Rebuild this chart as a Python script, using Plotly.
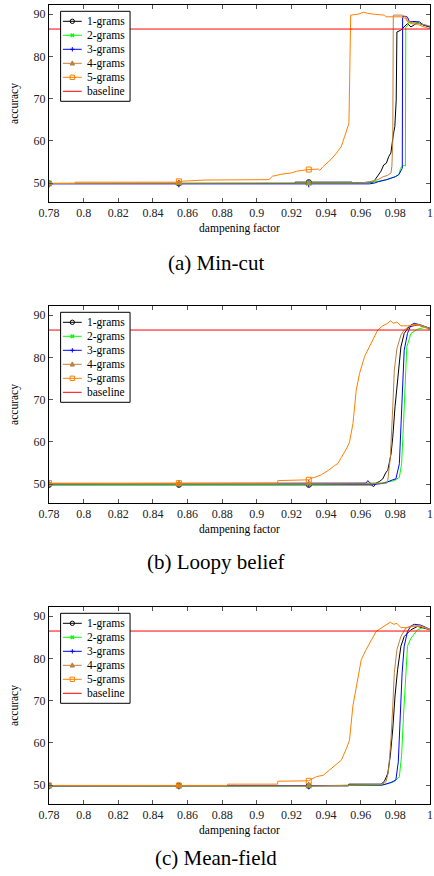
import plotly.graph_objects as go

# ---------------- data ----------------
X_TICKS = [0.78, 0.80, 0.82, 0.84, 0.86, 0.88, 0.90, 0.92, 0.94, 0.96, 0.98, 1.00]
X_TICK_TEXT = ["0.78", "0.8", "0.82", "0.84", "0.86", "0.88", "0.9", "0.92", "0.94", "0.96", "0.98", "1"]
Y_TICKS = [50, 60, 70, 80, 90]
MARK_X = [0.78, 0.855, 0.93]
SERIES_NAMES = ["1-grams", "2-grams", "3-grams", "4-grams", "5-grams"]
BASELINE_NAME = "baseline"
CAPTIONS = ["(a) Min-cut", "(b) Loopy belief", "(c) Mean-field"]
BASELINE_X = [0.78, 1.0]
BASELINE_Y = [86.5, 86.5]

# (a) Min-cut
MC1_X = [0.78, 0.855, 0.922, 0.9221, 0.93, 0.955, 0.9551, 0.9673, 0.9683, 0.9698, 0.9717, 0.9733, 0.9748, 0.9762,
         0.9774, 0.9788, 0.9797, 0.9805, 0.9809, 0.983, 0.985, 0.987, 0.989, 0.9928, 0.9966, 1.0]
MC1_Y = [49.9, 49.9, 49.9, 50.2, 50.2, 50.2, 50.0, 50.2, 50.8, 51.6, 52.8, 54.3, 54.7, 56.3,
         57.1, 61.4, 63.4, 69.7, 85.8, 86.2, 87.0, 87.8, 87.0, 88.0, 87.4, 87.0]
MC2_X = [0.78, 0.855, 0.93, 0.958, 0.965, 0.97, 0.975, 0.978, 0.980, 0.982, 0.983, 0.984, 0.9852, 0.9858,
         0.986, 0.987, 0.9875, 0.99, 0.993, 0.996, 1.0]
MC2_Y = [49.9, 49.9, 49.9, 50.0, 50.2, 50.4, 50.8, 51.2, 51.5, 52.0, 53.5, 54.0, 54.2, 54.0,
         87.0, 87.3, 88.0, 88.2, 88.0, 87.6, 87.0]
MC3_X = [0.78, 0.855, 0.93, 0.956, 0.965, 0.968, 0.97, 0.975, 0.978, 0.98, 0.982, 0.9835, 0.984, 0.9842,
         0.986, 0.987, 0.988, 0.99, 0.992, 0.994, 0.996, 1.0]
MC3_Y = [49.8, 49.8, 49.8, 49.8, 49.8, 50.0, 50.3, 50.8, 51.2, 51.5, 52.0, 53.0, 53.5, 89.5,
         89.5, 89.3, 88.3, 88.3, 88.3, 88.2, 87.5, 87.0]
MC4_X = [0.78, 0.855, 0.93, 0.96, 0.965, 0.97, 0.973, 0.9755, 0.9775, 0.978, 0.9785, 0.9788, 0.981, 0.984,
         0.986, 0.987, 0.99, 0.995, 1.0]
MC4_Y = [49.9, 49.9, 49.9, 50.0, 50.3, 50.8, 51.5, 51.8, 52.4, 54.0, 60.0, 89.8, 89.8, 89.8,
         89.3, 88.5, 88.0, 87.7, 87.2]
MC5_X = [0.78, 0.795, 0.7951, 0.853, 0.855, 0.87, 0.907, 0.909, 0.9144, 0.92, 0.923, 0.93, 0.9355, 0.9364,
         0.9383, 0.9412, 0.9431, 0.946, 0.9488, 0.9507, 0.9523, 0.9532, 0.9542, 0.9583, 0.9618, 0.9641,
         0.9679, 0.9737, 0.9746, 0.9775, 0.9813, 0.9832, 0.986, 0.987, 0.989, 0.9928, 0.9966, 1.0]
MC5_Y = [49.9, 49.9, 50.2, 50.2, 50.4, 50.7, 50.8, 51.6, 52.1, 52.4, 52.8, 53.2, 53.3, 53.0,
         53.9, 54.9, 55.7, 57.1, 58.7, 61.0, 63.4, 64.2, 89.8, 90.0, 90.5, 90.2,
         90.0, 89.8, 89.4, 89.4, 89.5, 89.4, 89.0, 88.2, 87.8, 87.6, 87.0, 86.6]

# (b) Loopy belief
LB1_X = [0.78, 0.855, 0.93, 0.966, 0.9675, 0.9688, 0.9708, 0.9727, 0.9746, 0.9756, 0.9775, 0.9785, 0.9798,
         0.9813, 0.9832, 0.9851, 0.988, 0.9928, 1.0]
LB1_Y = [49.8, 49.8, 49.8, 49.8, 49.4, 50.2, 50.6, 51.2, 52.8, 53.2, 57.1, 61.1, 68.3,
         75.4, 82.5, 85.7, 87.3, 87.7, 86.9]
LB2_X = [0.78, 0.855, 0.93, 0.9718, 0.9794, 0.9823, 0.9836, 0.9847, 0.9857, 0.9866, 0.989, 0.9928, 0.9966, 1.0]
LB2_Y = [50.0, 50.0, 50.0, 50.2, 50.8, 51.6, 54.8, 64.3, 76.2, 82.5, 85.7, 86.7, 87.1, 86.9]
LB3_X = [0.78, 0.855, 0.93, 0.963, 0.9641, 0.966, 0.9679, 0.9737, 0.9785, 0.9803, 0.9823, 0.9832, 0.9842,
         0.9851, 0.987, 0.989, 0.9909, 0.9947, 1.0]
LB3_Y = [50.1, 50.1, 50.1, 50.2, 50.8, 50.0, 49.9, 50.2, 51.0, 51.2, 54.8, 64.3, 76.2,
         81.7, 85.7, 87.7, 88.1, 87.7, 86.9]
LB4_X = [0.78, 0.855, 0.93, 0.975, 0.9756, 0.9771, 0.9785, 0.9794, 0.9809, 0.9832, 0.9851, 0.989, 0.9928, 1.0]
LB4_Y = [50.1, 50.1, 50.1, 50.2, 50.8, 56.3, 68.3, 77.0, 82.1, 85.3, 86.5, 87.7, 87.9, 86.9]
LB5_X = [0.78, 0.855, 0.912, 0.9121, 0.93, 0.9316, 0.9335, 0.9373, 0.9412, 0.945, 0.9469, 0.9488, 0.9517,
         0.9535, 0.9555, 0.9574, 0.9593, 0.9622, 0.9641, 0.9669, 0.9698, 0.9727, 0.9756, 0.9771, 0.979,
         0.9809, 0.9832, 0.987, 0.9928, 0.9966, 1.0]
LB5_Y = [50.2, 50.2, 50.2, 50.8, 51.0, 51.4, 51.6, 52.2, 53.2, 54.4, 54.9, 56.3, 58.3,
         59.9, 64.3, 72.2, 76.2, 80.2, 81.7, 84.1, 86.5, 87.5, 88.1, 88.7, 88.1,
         88.4, 87.5, 87.5, 87.7, 87.3, 86.5]

# (c) Mean-field
MF1_X = [0.78, 0.855, 0.93, 0.953, 0.9531, 0.9718, 0.9737, 0.9756, 0.9771, 0.9785, 0.9798, 0.9813, 0.9832,
         0.9851, 0.989, 0.9928, 1.0]
MF1_Y = [49.8, 49.8, 49.8, 49.8, 50.2, 50.2, 50.9, 52.7, 57.0, 63.3, 71.1, 77.4, 82.9,
         85.2, 86.8, 87.6, 86.8]
MF2_X = [0.78, 0.855, 0.93, 0.9737, 0.9794, 0.9823, 0.9836, 0.9847, 0.9859, 0.987, 0.989, 0.9928, 0.9966, 1.0]
MF2_Y = [49.8, 49.8, 49.8, 50.1, 50.8, 52.0, 57.0, 66.4, 76.6, 82.9, 84.8, 86.8, 87.4, 86.9]
MF3_X = [0.78, 0.855, 0.93, 0.9718, 0.9775, 0.9803, 0.9817, 0.9828, 0.9839, 0.9851, 0.987, 0.989, 0.9909,
         0.9947, 1.0]
MF3_Y = [49.8, 49.8, 49.8, 49.9, 50.6, 51.2, 55.5, 66.4, 76.6, 82.9, 86.4, 87.7, 88.1, 87.9, 86.9]
MF4_X = [0.78, 0.855, 0.93, 0.972, 0.9746, 0.976, 0.9775, 0.9785, 0.9794, 0.9809, 0.9832, 0.986, 0.989,
         0.9947, 1.0]
MF4_Y = [49.8, 49.8, 49.8, 50.0, 50.8, 53.1, 61.0, 68.8, 76.6, 82.1, 85.2, 87.2, 87.7, 87.7, 86.9]
MF5_X = [0.78, 0.855, 0.883, 0.8831, 0.912, 0.9121, 0.93, 0.9316, 0.9345, 0.9383, 0.9412, 0.945, 0.9488,
         0.9517, 0.9535, 0.9555, 0.9574, 0.9603, 0.9631, 0.966, 0.9689, 0.9718, 0.9746, 0.9771, 0.979,
         0.9809, 0.9832, 0.987, 0.9909, 0.9947, 1.0]
MF5_Y = [49.9, 49.9, 49.9, 50.2, 50.2, 50.9, 51.0, 51.4, 52.0, 52.3, 53.3, 54.7, 55.9,
         58.6, 60.6, 68.8, 73.5, 79.7, 82.1, 84.4, 86.4, 87.2, 87.9, 88.6, 88.1,
         88.3, 87.3, 87.3, 87.7, 87.6, 86.8]

PANELS = [
    [(MC1_X, MC1_Y), (MC2_X, MC2_Y), (MC3_X, MC3_Y), (MC4_X, MC4_Y), (MC5_X, MC5_Y)],
    [(LB1_X, LB1_Y), (LB2_X, LB2_Y), (LB3_X, LB3_Y), (LB4_X, LB4_Y), (LB5_X, LB5_Y)],
    [(MF1_X, MF1_Y), (MF2_X, MF2_Y), (MF3_X, MF3_Y), (MF4_X, MF4_Y), (MF5_X, MF5_Y)],
]

# ---------------- style ----------------
COLORS = ["#000000", "#00ff00", "#0000ff", "#bf8040", "#ff8000"]
BASE_COLOR = "#ff0000"
SYMBOLS = ["circle-open", "x-thin-open", "cross-thin-open", "triangle-up", "square-open"]
LEG_SYMBOLS = ["circle", "x", "plus", "triangle", "square"]
FONT = "Liberation Serif"

W, H = 434, 876
M_L, M_R, M_T, M_B = 49, 1, 5, 72
PW = W - M_L - M_R
PH = H - M_T - M_B
PANEL_PX = [(5, 202), (306, 503), (607, 804)]
CAPTION_PX = [263, 562, 858]
# legend box geometry (pixels)
LEG_LEFT, LEG_RIGHT = 60.7, 130.7
LEG_TOP_OFF, LEG_FIRST, LEG_STEP, LEG_H = 6.3, 10.0, 14.0, 90.0
LEG_LINE = (63.0, 82.0)
LEG_MARK_X = 72.5
LEG_TEXT_X = 85.0


def fx(px):
    return (px - M_L) / PW


def fy(py):
    return (H - M_B - py) / PH


fig = go.Figure()
shapes, annotations = [], []

for p, series in enumerate(PANELS):
    sfx = "" if p == 0 else str(p + 1)
    xa, ya = "x" + sfx, "y" + sfx
    for i, (xs, ys) in enumerate(series):
        assert len(xs) == len(ys)
        fig.add_trace(go.Scatter(
            x=xs, y=ys, mode="lines", name=SERIES_NAMES[i], xaxis=xa, yaxis=ya,
            line=dict(color=COLORS[i], width=1), showlegend=False))
        idx = [xs.index(m) for m in MARK_X]
        fig.add_trace(go.Scatter(
            x=[xs[k] for k in idx], y=[ys[k] for k in idx], mode="markers",
            name=SERIES_NAMES[i], xaxis=xa, yaxis=ya, showlegend=False,
            marker=dict(symbol=SYMBOLS[i], size=5, color=COLORS[i],
                        line=dict(color=COLORS[i], width=1))))
    fig.add_trace(go.Scatter(
        x=BASELINE_X, y=BASELINE_Y, mode="lines", name=BASELINE_NAME, xaxis=xa, yaxis=ya,
        showlegend=False, line=dict(color=BASE_COLOR, width=1)))

    # ---- legend box (drawn like the pgfplots legend) ----
    top = PANEL_PX[p][0] + LEG_TOP_OFF
    shapes.append(dict(type="rect", xref="paper", yref="paper", layer="above",
                       x0=fx(LEG_LEFT), x1=fx(LEG_RIGHT), y0=fy(top + LEG_H), y1=fy(top),
                       line=dict(color="black", width=1), fillcolor="white"))
    names = SERIES_NAMES + [BASELINE_NAME]
    cols = COLORS + [BASE_COLOR]
    for j, (nm, col) in enumerate(zip(names, cols)):
        yc = top + LEG_FIRST + LEG_STEP * j
        shapes.append(dict(type="line", xref="paper", yref="paper", layer="above",
                           x0=fx(LEG_LINE[0]), x1=fx(LEG_LINE[1]), y0=fy(yc), y1=fy(yc),
                           line=dict(color=col, width=1)))
        if j < len(SERIES_NAMES):
            sym = LEG_SYMBOLS[j]
            r = 2.2
            cx = LEG_MARK_X
            if sym == "circle":
                shapes.append(dict(type="circle", xref="paper", yref="paper", layer="above",
                                   x0=fx(cx - r), x1=fx(cx + r), y0=fy(yc + r), y1=fy(yc - r),
                                   line=dict(color=col, width=1), fillcolor="rgba(0,0,0,0)"))
            elif sym == "square":
                shapes.append(dict(type="rect", xref="paper", yref="paper", layer="above",
                                   x0=fx(cx - r), x1=fx(cx + r), y0=fy(yc + r), y1=fy(yc - r),
                                   line=dict(color=col, width=1), fillcolor="rgba(0,0,0,0)"))
            elif sym == "triangle":
                path = "M {} {} L {} {} L {} {} Z".format(
                    fx(cx - r), fy(yc + r * 0.8), fx(cx + r), fy(yc + r * 0.8), fx(cx), fy(yc - r * 1.1))
                shapes.append(dict(type="path", xref="paper", yref="paper", layer="above", path=path,
                                   line=dict(color=col, width=1), fillcolor=col))
            elif sym == "plus":
                path = "M {} {} L {} {} M {} {} L {} {}".format(
                    fx(cx - r), fy(yc), fx(cx + r), fy(yc), fx(cx), fy(yc - r), fx(cx), fy(yc + r))
                shapes.append(dict(type="path", xref="paper", yref="paper", layer="above", path=path,
                                   line=dict(color=col, width=1)))
            elif sym == "x":
                q = r * 0.75
                path = "M {} {} L {} {} M {} {} L {} {}".format(
                    fx(cx - q), fy(yc - q), fx(cx + q), fy(yc + q), fx(cx - q), fy(yc + q), fx(cx + q), fy(yc - q))
                shapes.append(dict(type="path", xref="paper", yref="paper", layer="above", path=path,
                                   line=dict(color=col, width=1.5)))
        annotations.append(dict(text=nm, xref="paper", yref="paper", x=fx(LEG_TEXT_X), y=fy(yc),
                                xanchor="left", yanchor="middle", showarrow=False,
                                font=dict(family=FONT, size=11.5, color="black")))

    annotations.append(dict(
        text=CAPTIONS[p], xref="paper", yref="paper", x=fx(217), y=fy(CAPTION_PX[p]),
        xanchor="center", yanchor="middle", showarrow=False,
        font=dict(family=FONT, size=21, color="black")))

axis_common = dict(
    showline=True, linecolor="black", linewidth=1, mirror="ticks",
    ticks="inside", ticklen=4, tickcolor="#555555", tickwidth=1,
    showgrid=False, zeroline=False, ticklabeloverflow="allow",
    tickfont=dict(family=FONT, size=12, color="#222222"),
)

layout = dict(
    width=W, height=H,
    margin=dict(l=M_L, r=M_R, t=M_T, b=M_B, pad=0),
    paper_bgcolor="white", plot_bgcolor="white",
    font=dict(family=FONT, color="black"),
    showlegend=False,
    shapes=shapes, annotations=annotations,
)

for p in range(3):
    sfx = "" if p == 0 else str(p + 1)
    top, bot = PANEL_PX[p]
    layout["xaxis" + sfx] = dict(
        axis_common, domain=[0, 1], range=[0.78, 1.0], anchor="y" + sfx,
        tickvals=X_TICKS, ticktext=X_TICK_TEXT,
        title=dict(text="dampening factor", font=dict(family=FONT, size=11.5), standoff=4),
    )
    layout["yaxis" + sfx] = dict(
        axis_common, domain=[fy(bot), fy(top)], range=[45.5, 92.2], anchor="x" + sfx,
        tickvals=Y_TICKS,
        title=dict(text="accuracy", font=dict(family=FONT, size=11.5), standoff=12),
    )

fig.update_layout(**layout)
fig.write_html("out.html", config={"displayModeBar": False},
               post_script="document.body.style.margin='0px';")
